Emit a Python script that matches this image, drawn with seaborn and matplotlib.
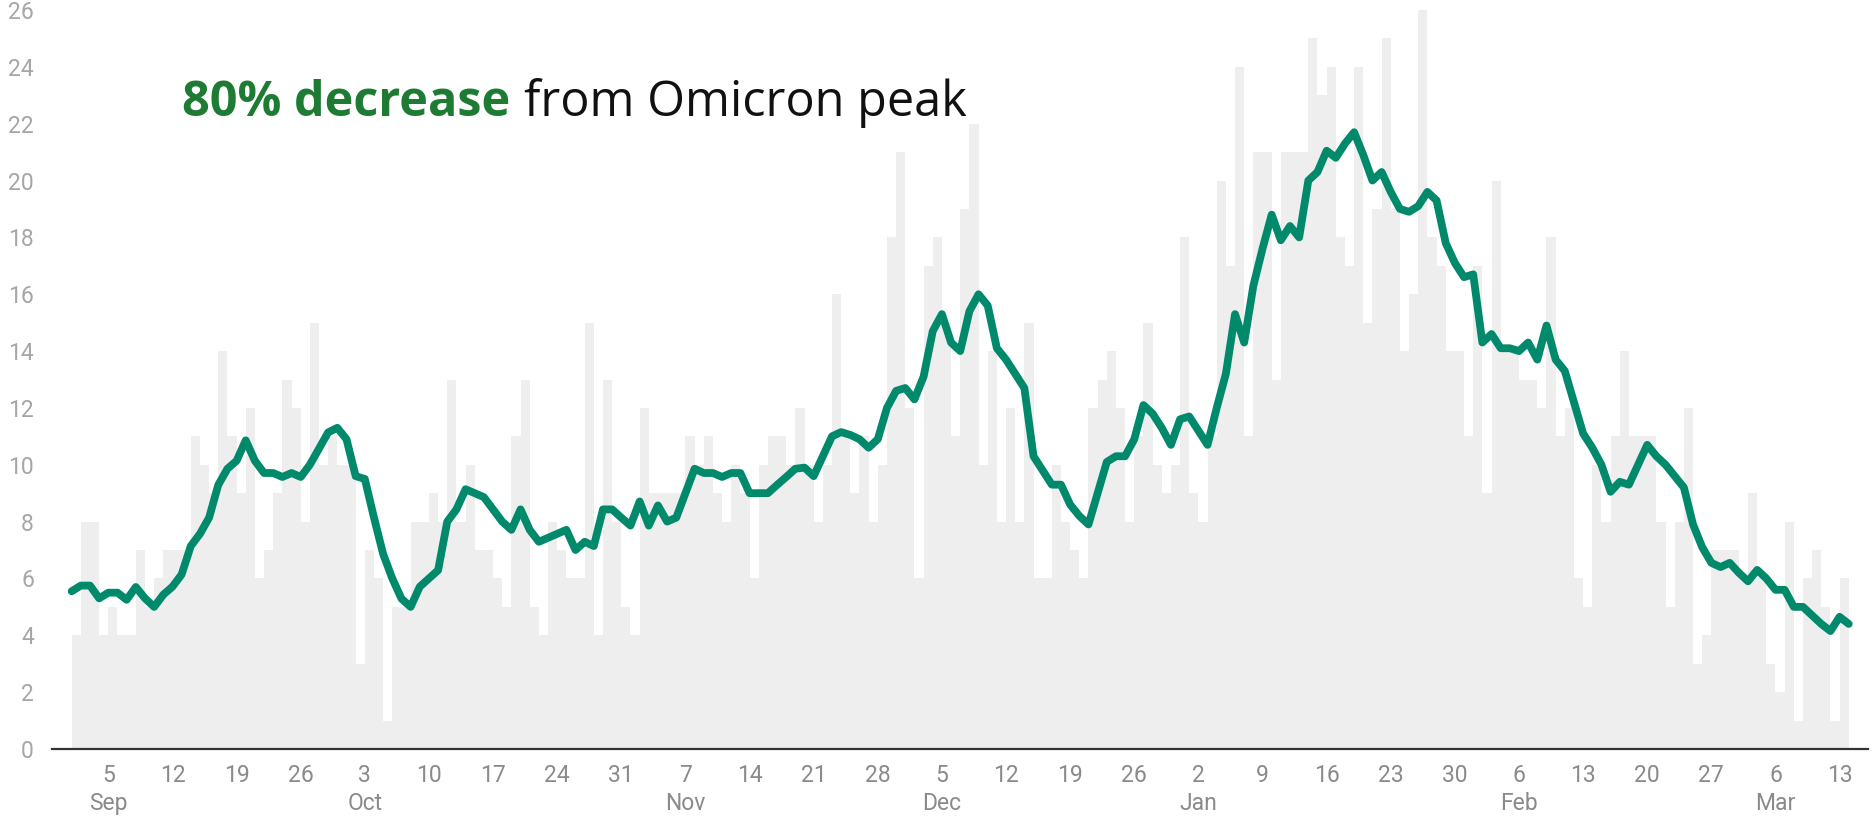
import pandas as pd
import numpy as np
import matplotlib
matplotlib.use("Agg")
import matplotlib.pyplot as plt
import seaborn as sns

# daily cases, Sep 1 2021 .. Mar 13 2022
cases = [4, 8, 8, 4, 5, 4, 4, 7, 5, 6, 7, 7, 7, 11, 10, 9,
         14, 11, 9, 12, 6, 7, 9, 13, 12, 8, 15, 10, 11, 10, 10, 3,
         7, 6, 1, 5, 5, 8, 8, 9, 8, 13, 8, 10, 7, 7, 6, 5, 11,
         13, 5, 4, 8, 7, 6, 6, 15, 4, 13, 8, 5, 4, 12, 9, 9,
         9, 9, 11, 10, 11, 9, 8, 10, 9, 6, 10, 11, 11, 10, 12,
         10, 8, 10, 16, 11, 9, 11, 8, 10, 18, 21, 12, 6, 17,
         18, 15, 11, 19, 22, 10, 14, 8, 12, 8, 15, 6, 6, 10, 8, 7, 6,
         12, 13, 14, 12, 8, 11, 15, 10, 9, 10, 18, 9, 8, 11, 20, 17,
         24, 11, 21, 21, 13, 21, 21, 21, 25, 23, 24, 18, 17, 24, 15, 19,
         25, 19, 14, 16, 26, 18, 17, 14, 14, 11, 17, 9, 20, 14, 14, 13,
         13, 12, 18, 11, 12, 6, 5, 10, 8, 11, 14, 11, 11, 11, 8, 5,
         8, 12, 3, 4, 7, 7, 7, 6, 9, 6, 3, 2, 8, 1, 6, 7, 5, 1, 6]

# 7-day average, Sep 1 2021 .. Mar 14 2022
avg7 = [5.55, 5.75, 5.75, 5.3, 5.5, 5.5, 5.25, 5.7, 5.3, 5.0, 5.43, 5.71, 6.14, 7.14, 7.57, 8.14,
        9.29, 9.86, 10.14, 10.86, 10.14, 9.71, 9.71, 9.57, 9.71, 9.57, 10.0, 10.57, 11.14, 11.3, 10.9, 9.6,
        9.5, 8.14, 6.86, 6.0, 5.29, 5.0, 5.71, 6.0, 6.29, 8.0, 8.43, 9.14, 9.0, 8.86, 8.43, 8.0, 7.71,
        8.43, 7.71, 7.29, 7.43, 7.57, 7.71, 7.0, 7.29, 7.14, 8.43, 8.43, 8.14, 7.86, 8.71, 7.86, 8.57,
        8.0, 8.14, 9.0, 9.86, 9.71, 9.71, 9.57, 9.71, 9.71, 9.0, 9.0, 9.0, 9.29, 9.57, 9.86,
        9.9, 9.6, 10.3, 11.0, 11.15, 11.05, 10.9, 10.6, 10.9, 12.0, 12.6, 12.7, 12.3, 13.1,
        14.7, 15.3, 14.3, 14.0, 15.4, 16.0, 15.6, 14.1, 13.7, 13.2, 12.7, 10.3, 9.8, 9.3, 9.3, 8.6, 8.2,
        7.9, 9.0, 10.1, 10.3, 10.3, 10.9, 12.1, 11.8, 11.3, 10.7, 11.6, 11.7, 11.2, 10.7, 12.0, 13.2,
        15.3, 14.3, 16.3, 17.6, 18.8, 17.9, 18.4, 18.0, 20.0, 20.3, 21.05, 20.8, 21.3, 21.7, 20.9, 20.0,
        20.3, 19.6, 19.0, 18.9, 19.1, 19.6, 19.3, 17.8, 17.1, 16.6, 16.7, 14.3, 14.6, 14.1, 14.1, 14.0,
        14.3, 13.7, 14.9, 13.7, 13.3, 12.2, 11.1, 10.6, 10.0, 9.05, 9.4, 9.3, 10.0, 10.7, 10.3, 10.0,
        9.6, 9.2, 7.9, 7.1, 6.55, 6.4, 6.55, 6.2, 5.9, 6.3, 6.0, 5.6, 5.6, 5.0, 5.0, 4.7, 4.4, 4.15, 4.65, 4.4]

start = pd.Timestamp("2021-09-01")
tick_dates = pd.date_range("2021-09-05", "2022-03-13", freq="7D")
y_ticks = list(range(0, 27, 2))

BAR = "#eeeeee"
LINE = "#00896b"
GREEN = "#1e7b34"

sns.set_theme(style="white")
plt.rcParams["font.family"] = ["Roboto", "DejaVu Sans"]

fig = plt.figure(figsize=(18.74, 8.21), dpi=100)
ax = fig.add_axes([52 / 1874, 72 / 821, 1816 / 1874, 739 / 821])

bars = pd.DataFrame({"day": np.arange(len(cases)) + 0.5, "cases": cases})
sns.barplot(data=bars, x="day", y="cases", native_scale=True, width=1,
            color=BAR, saturation=1, linewidth=0, errorbar=None, ax=ax)

line = pd.DataFrame({"day": np.arange(len(avg7)), "avg": avg7})
sns.lineplot(data=line, x="day", y="avg", color=LINE, linewidth=5.6,
             solid_capstyle="round", solid_joinstyle="round", ax=ax)

ax.set_xlim(-2.15, 196.1)
ax.set_ylim(0, 26)
ax.set_yticks(y_ticks)
ax.set_yticklabels([str(v) for v in y_ticks], color="#a6a6a6", fontsize=16.5)

xt = [(d - start).days for d in tick_dates]
labels = []
prev_month = None
for d in tick_dates:
    if d.month != prev_month:
        labels.append(f"{d.day}\n{d.strftime('%b')}")
        prev_month = d.month
    else:
        labels.append(str(d.day))
ax.set_xticks(xt)
ax.set_xticklabels(labels, color="#8a8a8a", fontsize=16.5, linespacing=1.25)
ax.tick_params(axis="both", length=0)
ax.tick_params(axis="x", pad=11)
ax.tick_params(axis="y", pad=13)
ax.set_xlabel("")
ax.set_ylabel("")

for s in ["top", "right", "left"]:
    ax.spines[s].set_visible(False)
ax.spines["bottom"].set_color("#333333")
ax.spines["bottom"].set_linewidth(1.6)
ax.grid(False)

t1 = ax.text(0.0716, 0.857, "80% decrease", transform=ax.transAxes,
             fontsize=35, fontweight="bold", color=GREEN, va="baseline",
             family=["Open Sans", "DejaVu Sans"])
fig.canvas.draw()
bb = t1.get_window_extent()
x_next = ax.transAxes.inverted().transform((bb.x1 + 14, bb.y0))[0]
ax.text(x_next, 0.857, "from Omicron peak", transform=ax.transAxes,
        fontsize=35, color="#111111", va="baseline",
        family=["Open Sans", "DejaVu Sans"])

fig.savefig("out.png", dpi=100)
